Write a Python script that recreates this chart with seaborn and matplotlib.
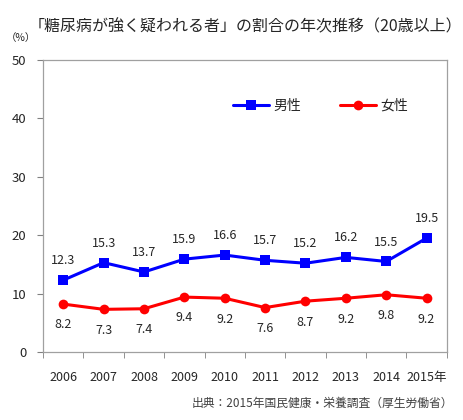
import numpy as np
import pandas as pd
import matplotlib
matplotlib.use("Agg")
import matplotlib.pyplot as plt
import seaborn as sns

# データ
years = ["2006", "2007", "2008", "2009", "2010", "2011", "2012", "2013", "2014", "2015年"]
male = [12.3, 15.3, 13.7, 15.9, 16.6, 15.7, 15.2, 16.2, 15.5, 19.5]
female = [8.2, 7.3, 7.4, 9.4, 9.2, 7.6, 8.7, 9.2, 9.8, 9.2]

sns.set_style("white")
plt.rcParams['font.family'] = ['Noto Sans CJK JP', 'DejaVu Sans']

df = pd.DataFrame({
    "pos": list(range(len(years))) * 2,
    "value": male + female,
    "sex": ["男性"] * len(years) + ["女性"] * len(years),
})

fig = plt.figure(figsize=(4.63, 4.2), dpi=100)
ax = fig.add_axes([0.093, 0.162, 0.872, 0.695])

sns.lineplot(data=df, x="pos", y="value", hue="sex", style="sex",
             palette={"男性": "#0000FF", "女性": "#FF0000"},
             markers={"男性": "s", "女性": "o"}, dashes=False,
             linewidth=2.2, markersize=7, markeredgewidth=0, ax=ax)

# データラベル
for i, v in enumerate(male):
    ax.annotate(f"{v:.1f}", (i, v), xytext=(0, 14), textcoords="offset points",
                ha="center", va="center", fontsize=9)
for i, v in enumerate(female):
    ax.annotate(f"{v:.1f}", (i, v), xytext=(0, -15), textcoords="offset points",
                ha="center", va="center", fontsize=9)

ax.set_xlim(-0.5, len(years) - 0.5)
ax.set_ylim(0, 50)
ax.set_yticks(range(0, 51, 10))
ax.set_yticklabels([str(t) for t in range(0, 51, 10)], fontsize=9.5)
ax.set_xticks(range(len(years)))
ax.set_xticklabels(years, fontsize=9)
ax.set_xticks(np.arange(-0.5, len(years), 1), minor=True)
ax.tick_params(axis="x", which="major", length=0, pad=14)
ax.tick_params(axis="x", which="minor", length=4, color="#808080", direction="out", bottom=True)
ax.tick_params(axis="y", length=4, color="#808080", direction="out", left=True, pad=8)
ax.grid(False)
for s in ax.spines.values():
    s.set_color("#A0A0A0")
    s.set_linewidth(0.9)
ax.set_xlabel("")
ax.set_ylabel("")

ax.legend(loc="upper left", bbox_to_anchor=(0.44, 0.91), ncol=2, frameon=False,
          fontsize=10, handlelength=2.6, handletextpad=0.3, columnspacing=2.8, title=None)

fig.text(0.53, 0.935, "「糖尿病が強く疑われる者」の割合の年次推移（20歳以上）",
         ha="center", va="center", fontsize=11.5)
fig.text(0.045, 0.91, "（%）", ha="center", va="center", fontsize=7.5)
fig.text(0.978, 0.04, "出典：2015年国民健康・栄養調査（厚生労働省）",
         ha="right", va="center", fontsize=8.5, color="#404040")

fig.savefig("out.png", dpi=100)
